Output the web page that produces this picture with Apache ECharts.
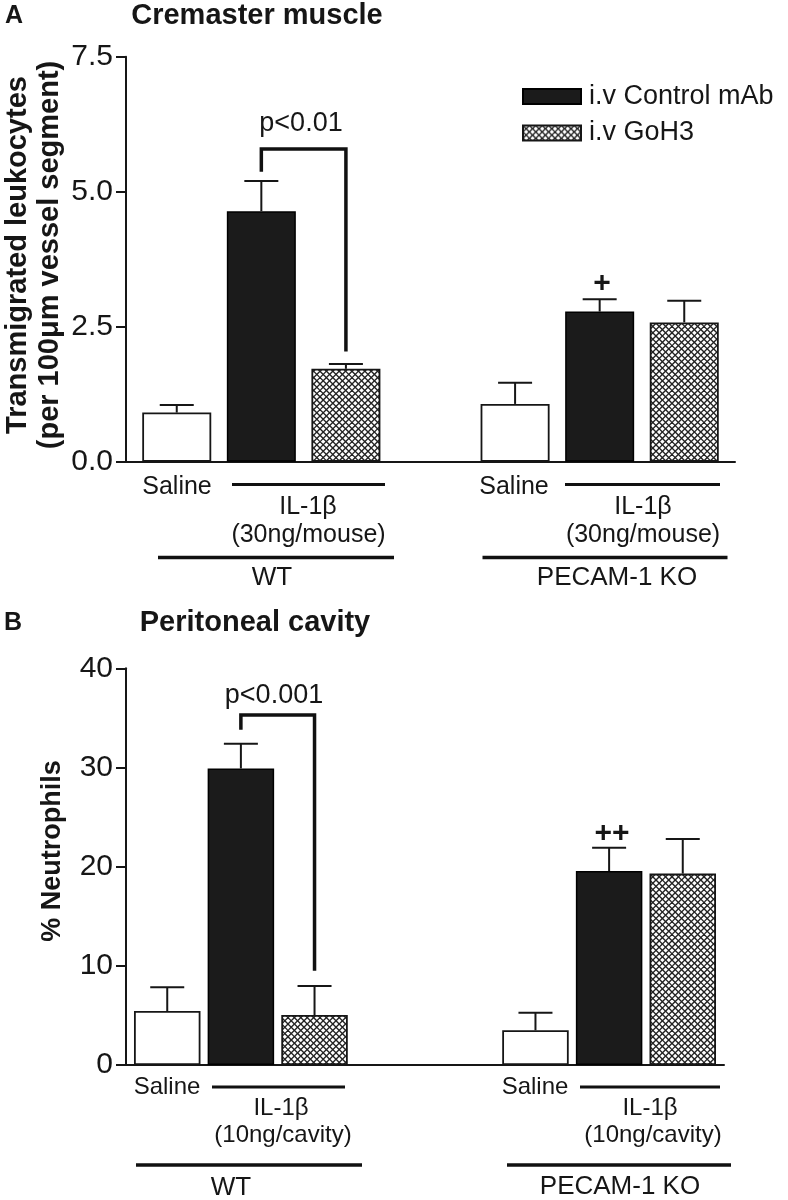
<!DOCTYPE html>
<html><head><meta charset="utf-8">
<script src="https://cdn.jsdelivr.net/npm/echarts@6/dist/echarts.min.js"></script>
<style>html,body{margin:0;padding:0;background:#fff}#c{width:788px;height:1200px}</style>
</head><body><div id="c"></div>
<script>
// ---- data ----
// slot index on x axis (category order, blanks separate the genotype groups)
const slotsA = ['WT Saline','WT IL-1β Control mAb','WT IL-1β GoH3','','KO Saline','KO IL-1β Control mAb','KO IL-1β GoH3'];
const slotsB = ['WT Saline','WT IL-1β Control mAb','WT IL-1β GoH3','','','KO Saline','KO IL-1β Control mAb','KO IL-1β GoH3'];
const yTicksA = [0, 2.5, 5.0, 7.5];
const yTicksB = [0, 10, 20, 30, 40];
// Panel A: transmigrated leukocytes (WT, PECAM-1 KO)
const salineA = [0.91, 1.07];  const salineErrA = [0.14, 0.39];
const controlA = [4.64, 2.78]; const controlErrA = [0.56, 0.23];
const goh3A = [1.72, 2.58];    const goh3ErrA = [0.09, 0.40];
// Panel B: % neutrophils
const salineB = [5.44, 3.50];   const salineErrB = [2.39, 1.77];
const controlB = [29.9, 19.56]; const controlErrB = [2.50, 2.34];
const goh3B = [5.04, 19.3];     const goh3ErrB = [2.92, 3.50];
// significance brackets: [fromSlot, toSlot, top, leftEnd, rightEnd]
const bracketA = [1, 2, 5.79, 5.37, 2.04];
const bracketB = [1, 2, 35.3, 33.8, 9.5];

// ---- helpers ----
const FONT = "'Liberation Sans', Arial, Helvetica, sans-serif";
const INK = '#161616';
function slotIdx(slots, name){ return slots.indexOf(name); }
function posFor(slots, kind){ return [slotIdx(slots,'WT '+kind), slotIdx(slots,'KO '+kind)]; }

function hatchCanvas(){
  const c = document.createElement('canvas'); c.width = 32; c.height = 32;
  const g = c.getContext('2d');
  g.fillStyle = '#fff'; g.fillRect(0,0,32,32);
  g.strokeStyle = '#222'; g.lineWidth = 1.35;
  for (let k = -6; k <= 6; k++){
    const o = k*6.4;
    g.beginPath(); g.moveTo(o,0); g.lineTo(o+32,32); g.stroke();
    g.beginPath(); g.moveTo(o,32); g.lineTo(o+32,0); g.stroke();
  }
  return c;
}
const hatch = {image: hatchCanvas(), repeat: 'repeat'};

const styles = {
  Saline: {color:'#fff', borderColor: INK, borderWidth: 1.8},
  'IL-1β Control mAb': {color:'#1b1b1b', borderColor:'#000', borderWidth: 1.5},
  'IL-1β GoH3': {color: hatch, borderColor: INK, borderWidth: 1.8}
};

function bars(name, kind, slots, vals, axis, bw){
  const pos = posFor(slots, kind);
  return {type:'bar', name, xAxisIndex: axis, yAxisIndex: axis, barWidth: bw, barGap:'-100%',
    itemStyle: styles[kind], silent: true, z: 2,
    data: vals.map((v,i)=>[pos[i], v])};
}
function errs(kind, slots, vals, err, axis){
  const pos = posFor(slots, kind);
  return {type:'custom', xAxisIndex: axis, yAxisIndex: axis, silent: true, z: 3,
    encode:{x:0, y:[1,2]},
    data: vals.map((v,i)=>[pos[i], v, v+err[i]]),
    renderItem: (p, api) => {
      const a = api.coord([api.value(0), api.value(1)]);
      const b = api.coord([api.value(0), api.value(2)]);
      return {type:'group', children:[
        {type:'line', shape:{x1:a[0], y1:a[1], x2:b[0], y2:b[1]}, style:{stroke:INK, lineWidth:2}},
        {type:'line', shape:{x1:b[0]-17, y1:b[1], x2:b[0]+17, y2:b[1]}, style:{stroke:INK, lineWidth:2}}
      ]};
    }};
}
function bracket(br, axis){
  return {type:'custom', xAxisIndex: axis, yAxisIndex: axis, silent: true, z: 4,
    encode:{x:[0,1], y:[2,3,4]},
    data:[br],
    renderItem: (p, api) => {
      const x1 = api.value(0), x2 = api.value(1), t = api.value(2);
      const pts = [api.coord([x1, api.value(3)]), api.coord([x1, t]), api.coord([x2, t]), api.coord([x2, api.value(4)])];
      return {type:'polyline', shape:{points: pts}, style:{stroke:'#111', lineWidth:3.5, fill:null, lineJoin:'miter'}};
    }};
}
function yAx(grid, max, interval, fmt){
  return {type:'value', gridIndex: grid, min: 0, max, interval,
    axisLine:{show:true, onZero:false, lineStyle:{color:INK, width:2}},
    axisTick:{show:true, length:10, lineStyle:{color:INK, width:2}},
    axisLabel:{fontSize:30, fontFamily:FONT, color:INK, margin:13, formatter: fmt},
    splitLine:{show:false}};
}
function xAx(grid, min, max){
  return {type:'value', gridIndex: grid, min, max,
    axisLine:{show:true, onZero:false, lineStyle:{color:INK, width:2}},
    axisTick:{show:false}, axisLabel:{show:false}, splitLine:{show:false}};
}
function T(text, x, y, size, bold, rot, lh){
  return {type:'text', x, y, rotation: rot || 0, silent:true,
    style:{text, x:0, y:0, fill: INK, font: (bold?'bold ':'') + size + 'px ' + FONT,
      textAlign:'center', textVerticalAlign:'middle', align:'center', verticalAlign:'middle',
      lineHeight: lh || size}};
}
function L(x1, x2, y, w){
  return {type:'line', silent:true, shape:{x1, y1:y, x2, y2:y}, style:{stroke:'#111', lineWidth:w}};
}

const chart = echarts.init(document.getElementById('c'), null, {renderer:'canvas'});
chart.setOption({
  animation: false,
  backgroundColor: '#fff',
  grid: [
    {left:126, top:56.7, width:609, height:405},
    {left:126, top:668.3, width:598, height:396.7}
  ],
  xAxis: [xAx(0, -0.6, 6.6), xAx(1, -0.56, 7.56)],
  yAxis: [
    yAx(0, yTicksA[yTicksA.length-1], yTicksA[1]-yTicksA[0], v => v.toFixed(1)),
    yAx(1, yTicksB[yTicksB.length-1], yTicksB[1]-yTicksB[0], v => String(v))
  ],
  legend: {data:['i.v Control mAb','i.v GoH3'], orient:'vertical', left:522, top:83, padding:0,
    itemWidth:58, itemHeight:15, itemGap:9.5, selectedMode:false, icon:'rect',
    textStyle:{fontSize:27, fontFamily:FONT, color:INK, padding:[0,0,0,3]}},
  series: [
    bars('Saline', 'Saline', slotsA, salineA, 0, 69),
    bars('i.v Control mAb', 'IL-1β Control mAb', slotsA, controlA, 0, 69),
    bars('i.v GoH3', 'IL-1β GoH3', slotsA, goh3A, 0, 69),
    errs('Saline', slotsA, salineA, salineErrA, 0),
    errs('IL-1β Control mAb', slotsA, controlA, controlErrA, 0),
    errs('IL-1β GoH3', slotsA, goh3A, goh3ErrA, 0),
    bracket(bracketA, 0),
    bars('Saline', 'Saline', slotsB, salineB, 1, 66.5),
    bars('i.v Control mAb', 'IL-1β Control mAb', slotsB, controlB, 1, 66.5),
    bars('i.v GoH3', 'IL-1β GoH3', slotsB, goh3B, 1, 66.5),
    errs('Saline', slotsB, salineB, salineErrB, 1),
    errs('IL-1β Control mAb', slotsB, controlB, controlErrB, 1),
    errs('IL-1β GoH3', slotsB, goh3B, goh3ErrB, 1),
    bracket(bracketB, 1)
  ],
  graphic: [
    T('A', 14, 16, 25, true),
    T('Cremaster muscle', 257, 16, 29, true),
    T('Transmigrated leukocytes\n(per 100μm vessel segment)', 33.5, 255, 29, true, Math.PI/2, 32),
    T('p<0.01', 301, 124, 27),
    T('+', 602, 284, 30, true),
    T('Saline', 177, 487, 25),
    L(232, 385, 484.5, 3),
    T('IL-1β', 308, 507, 25),
    T('(30ng/mouse)', 308.5, 535, 25),
    L(158, 394, 557.5, 3.5),
    T('WT', 272, 578, 26),
    T('Saline', 514, 487, 25),
    L(565, 720, 484.5, 3),
    T('IL-1β', 643, 507, 25),
    T('(30ng/mouse)', 643, 535, 25),
    L(482.5, 727.5, 557.5, 3.5),
    T('PECAM-1 KO', 617, 578, 26),

    T('B', 13, 623, 25, true),
    T('Peritoneal cavity', 255, 623, 29, true),
    T('% Neutrophils', 53, 851, 27, true, Math.PI/2),
    T('p<0.001', 274, 696, 27),
    T('++', 612, 834, 30, true),
    T('Saline', 167, 1087, 24),
    L(212, 345, 1087, 3),
    T('IL-1β', 281, 1108, 24),
    T('(10ng/cavity)', 283, 1135, 24),
    L(136, 362, 1165, 3.5),
    T('WT', 231, 1188, 26),
    T('Saline', 535, 1087, 24),
    L(580, 720, 1087, 3),
    T('IL-1β', 650, 1108, 24),
    T('(10ng/cavity)', 653, 1135, 24),
    L(507, 731, 1165, 3.5),
    T('PECAM-1 KO', 620, 1187, 26)
  ]
});
</script></body></html>
